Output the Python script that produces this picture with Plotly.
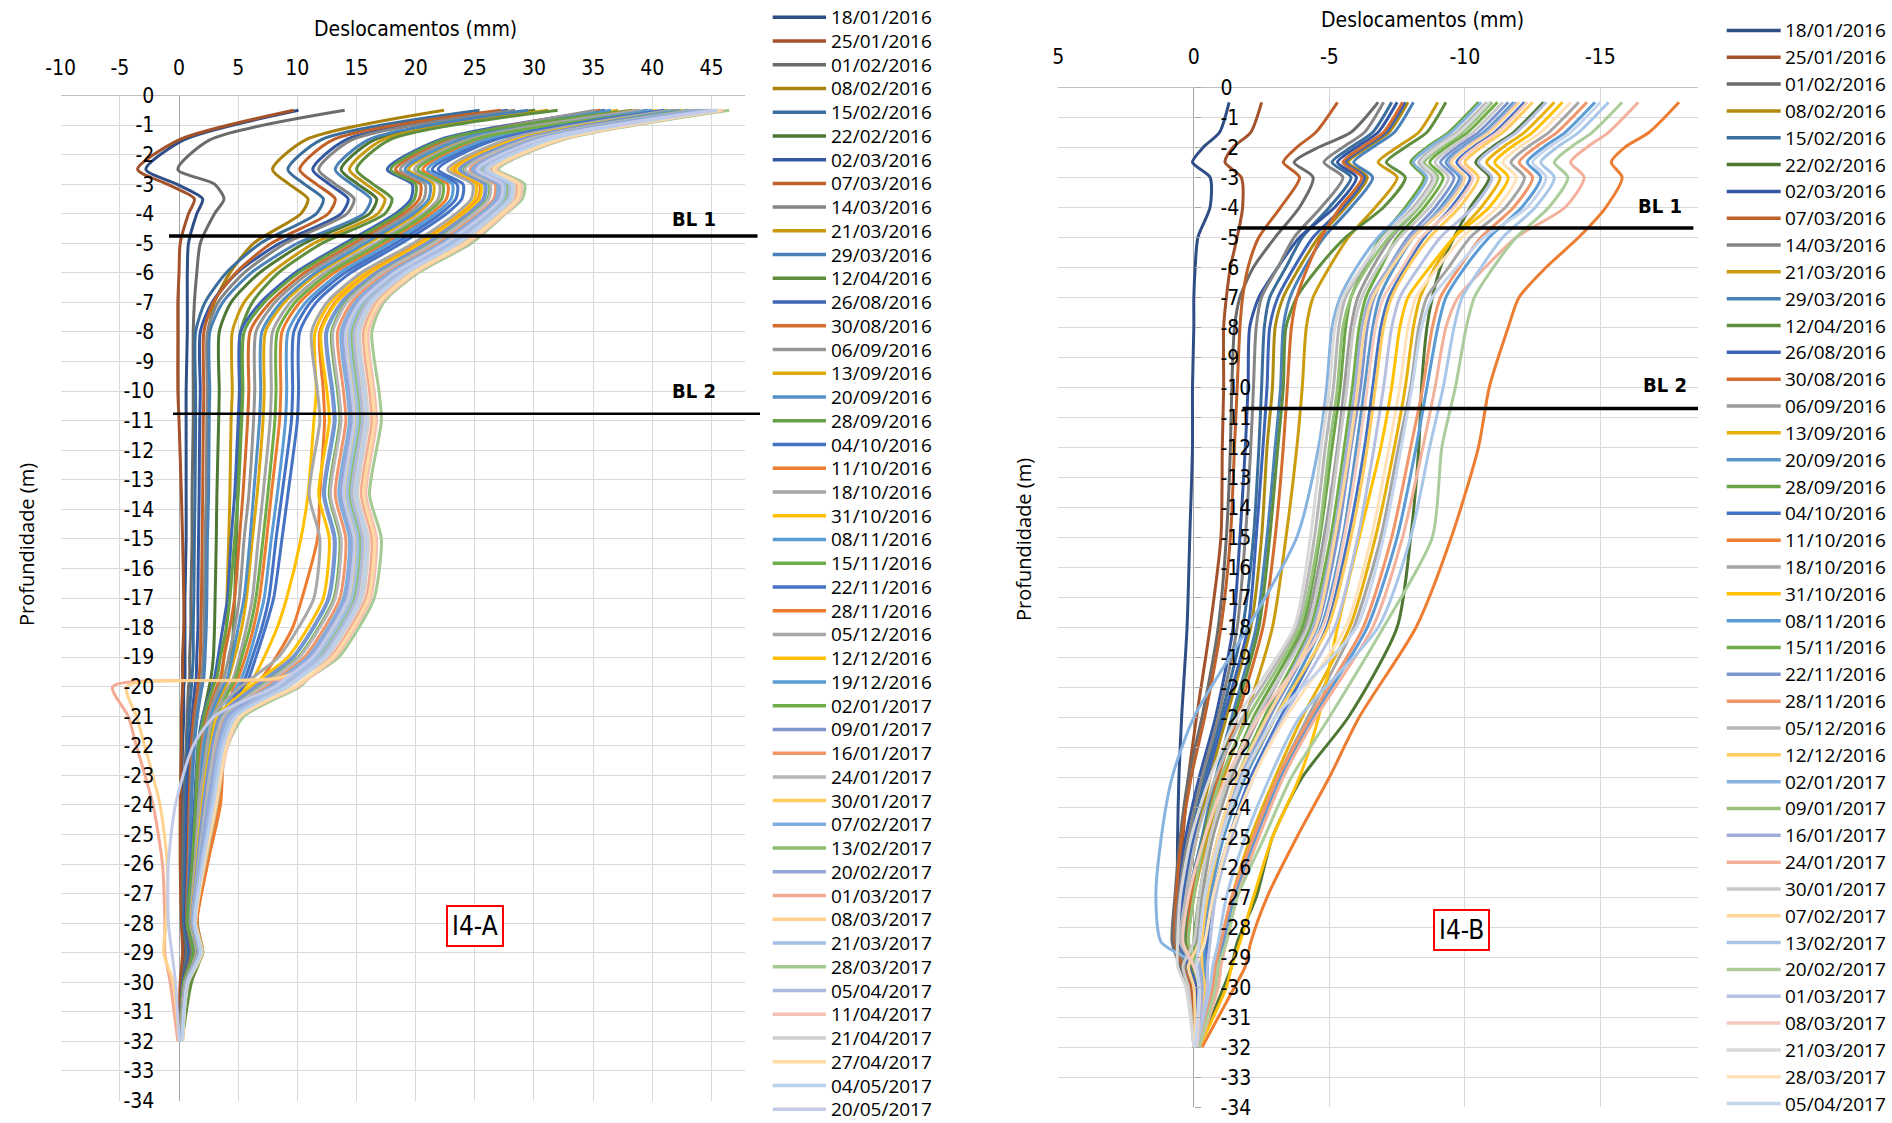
import plotly.graph_objects as go

# ---------------------------------------------------------------------------
# Inclinometer I4-A : depth stations (m) and cumulative displacement (mm)
# ---------------------------------------------------------------------------
depth_a = [-0.5, -1.5, -2.5, -3, -3.5, -4, -5, -6, -7, -8, -10, -11, -13.5, -15, -17,
           -18, -19, -19.7, -20, -21, -22, -24, -26, -28, -29, -30, -32]

dates_a = ["18/01/2016", "25/01/2016", "01/02/2016", "08/02/2016", "15/02/2016", "22/02/2016",
           "02/03/2016", "07/03/2016", "14/03/2016", "21/03/2016", "29/03/2016", "12/04/2016",
           "26/08/2016", "30/08/2016", "06/09/2016", "13/09/2016", "20/09/2016", "28/09/2016",
           "04/10/2016", "11/10/2016", "18/10/2016", "31/10/2016", "08/11/2016", "15/11/2016",
           "22/11/2016", "28/11/2016", "05/12/2016", "12/12/2016", "19/12/2016", "02/01/2017",
           "09/01/2017", "16/01/2017", "24/01/2017", "30/01/2017", "07/02/2017", "13/02/2017",
           "20/02/2017", "01/03/2017", "08/03/2017", "21/03/2017", "28/03/2017", "05/04/2017",
           "11/04/2017", "21/04/2017", "27/04/2017", "04/05/2017", "20/05/2017"]

colors_a = ["#2F4E86", "#A3522A", "#6B6B6B", "#A8820A", "#3A6E9C", "#4D7733",
            "#3457A3", "#C0602A", "#858585", "#C99A10", "#4A82B8", "#5E8E3E",
            "#3E65B5", "#D46C2E", "#969696", "#E0A808", "#5290C8", "#67A044",
            "#4472C4", "#ED7D31", "#A5A5A5", "#FFC000", "#5B9BD5", "#70AD47",
            "#4673C4", "#EE7B30", "#A8A8A8", "#FFC000", "#5B9BD5", "#70AD47",
            "#7D95CF", "#F1956B", "#B7B7B7", "#FFCB5C", "#7EAEDE", "#8DBE6F",
            "#95A7D8", "#F3AA92", "#FFD38E", "#A0C0E6", "#A5CA93", "#AEB9DE",
            "#F5C2B2", "#CFCFCF", "#FFDBA3", "#BBD0EC", "#C3CBE8"]

a_2016_01_18 = [10.1, 0.4, -2.8, -0.2, 2.0, 1.5, 0.8, 0.7, 0.7, 0.7, 0.6, 0.6, 0.6, 0.6, 0.5, 0.5, 0.5, 0.5, 0.4, 0.4, 0.3, 0.2, 0.2, 0.3, 0.4, 0.2, 0.0]
a_2016_01_25 = [9.7, 0.0, -3.5, -1.0, 1.3, 0.8, 0.1, 0.0, -0.1, -0.1, -0.1, 0.0, 0.2, 0.3, 0.4, 0.4, 0.3, 0.3, 0.3, 0.2, 0.2, 0.1, 0.1, 0.2, 0.3, 0.1, 0.0]
a_2016_02_01 = [14.0, 2.6, -0.1, 3.0, 3.8, 3.0, 1.8, 1.5, 1.3, 1.2, 1.2, 1.2, 1.1, 1.1, 1.0, 1.0, 0.9, 0.9, 0.8, 0.7, 0.6, 0.4, 0.3, 0.4, 0.6, 0.3, 0.1]
a_2016_02_08 = [22.4, 10.7, 7.9, 9.3, 10.9, 10.3, 6.3, 4.3, 3.0, 2.5, 2.5, 2.45, 2.4, 2.3, 2.25, 2.2, 2.1, 2.0, 1.9, 1.5, 1.25, 1.0, 0.9, 0.75, 1.15, 0.5, 0.1]
a_2016_02_15 = [25.4, 12.0, 9.2, 10.6, 12.2, 11.6, 6.9, 4.0, 2.2, 1.4, 1.4, 1.4, 1.35, 1.3, 1.25, 1.2, 1.2, 1.1, 1.05, 0.85, 0.7, 0.55, 0.5, 0.4, 0.8, 0.3, 0.05]
a_2016_02_22 = [30.1, 16.5, 13.7, 15.1, 16.7, 16.1, 10.6, 6.8, 4.4, 3.4, 3.4, 3.35, 3.2, 3.15, 3.05, 3.0, 2.9, 2.7, 2.55, 2.05, 1.7, 1.35, 1.2, 1.0, 1.4, 0.7, 0.15]
a_2016_03_02 = [27.8, 14.1, 11.3, 12.7, 14.3, 13.7, 8.5, 4.9, 2.8, 1.8, 1.8, 1.75, 1.7, 1.65, 1.6, 1.6, 1.5, 1.45, 1.35, 1.1, 0.9, 0.7, 0.65, 0.55, 0.95, 0.35, 0.1]
a_2016_03_07 = [27.2, 13.0, 10.2, 11.6, 13.2, 12.6, 7.8, 4.8, 2.9, 2.1, 2.1, 2.05, 2.0, 1.95, 1.9, 1.85, 1.8, 1.7, 1.6, 1.25, 1.05, 0.85, 0.75, 0.65, 1.05, 0.4, 0.1]
a_2016_03_14 = [28.4, 14.6, 11.8, 13.2, 14.8, 14.2, 9.0, 5.5, 3.3, 2.4, 2.4, 2.35, 2.3, 2.2, 2.15, 2.1, 2.05, 1.9, 1.8, 1.45, 1.2, 0.95, 0.85, 0.7, 1.1, 0.5, 0.1]
a_2016_03_21 = [31.2, 17.2, 14.4, 15.8, 17.4, 16.8, 11.4, 7.8, 5.5, 4.5, 4.5, 4.4, 4.3, 4.2, 4.05, 4.0, 3.8, 3.6, 3.4, 2.7, 2.25, 1.8, 1.6, 1.35, 1.75, 0.9, 0.2]
a_2016_03_29 = [29.5, 16.0, 13.2, 14.6, 16.2, 15.6, 10.0, 6.1, 3.7, 2.6, 2.6, 2.55, 2.5, 2.4, 2.35, 2.3, 2.2, 2.1, 1.95, 1.55, 1.3, 1.05, 0.9, 0.8, 1.2, 0.5, 0.15]
a_2016_04_12 = [32.0, 17.8, 15.0, 16.4, 18.0, 17.4, 12.1, 8.4, 6.2, 5.2, 5.2, 5.1, 4.95, 4.85, 4.7, 4.6, 4.4, 4.15, 3.9, 3.1, 2.6, 2.1, 1.8, 1.55, 1.95, 1.05, 0.25]
a_2016_08_26 = [36.0, 22.0, 17.6, 19.7, 19.6, 18.3, 14.0, 9.8, 6.9, 5.2, 5.1, 5.0, 4.7, 4.4, 4.1, 3.7, 3.3, 3.0, 2.8, 2.0, 1.6, 1.3, 1.0, 0.7, 1.2, 0.4, 0.1]
a_2016_08_30 = [35.6, 22.8, 18.3, 20.4, 20.3, 19.0, 14.8, 10.6, 7.7, 6.0, 5.9, 5.8, 5.4, 5.1, 4.7, 4.3, 3.8, 3.5, 3.2, 2.3, 1.8, 1.5, 1.2, 0.8, 1.3, 0.4, 0.1]
a_2016_09_06 = [35.2, 23.2, 18.7, 20.8, 20.7, 19.4, 15.2, 11.0, 8.1, 6.5, 6.4, 6.3, 5.9, 5.5, 5.1, 4.7, 4.2, 3.8, 3.4, 2.5, 2.0, 1.6, 1.3, 0.85, 1.35, 0.45, 0.15]
a_2016_09_13 = [37.1, 24.0, 19.4, 21.5, 21.4, 20.1, 16.0, 11.8, 8.9, 7.3, 7.2, 7.1, 6.6, 6.2, 5.7, 5.3, 4.7, 4.2, 3.9, 2.8, 2.2, 1.8, 1.5, 0.95, 1.45, 0.5, 0.15]
a_2016_09_20 = [36.5, 23.7, 19.1, 21.2, 21.1, 19.8, 15.7, 11.5, 8.6, 7.0, 6.9, 6.8, 6.3, 6.0, 5.5, 5.0, 4.5, 4.1, 3.7, 2.7, 2.1, 1.75, 1.4, 0.9, 1.4, 0.5, 0.15]
a_2016_09_28 = [38.3, 22.3, 17.9, 20.0, 19.9, 18.6, 14.3, 10.1, 7.2, 5.5, 5.4, 5.3, 5.0, 4.7, 4.3, 4.0, 3.5, 3.2, 2.9, 2.1, 1.65, 1.4, 1.1, 0.7, 1.2, 0.4, 0.1]
a_2016_10_04 = [39.6, 26.2, 21.4, 23.5, 23.4, 22.1, 18.3, 14.0, 11.1, 9.7, 9.6, 9.5, 8.7, 8.2, 7.6, 7.0, 6.2, 5.6, 5.1, 3.7, 2.9, 2.4, 1.9, 1.25, 1.75, 0.7, 0.2]
a_2016_10_11 = [38.7, 25.3, 20.6, 22.7, 22.6, 21.3, 17.4, 13.1, 10.2, 8.7, 8.6, 8.5, 7.8, 7.4, 6.8, 6.3, 5.6, 5.0, 4.6, 4.2, 3.8, 3.5, 2.4, 1.5, 2.0, 0.8, 0.2]
a_2016_10_18 = [39.0, 24.5, 19.9, 22.0, 21.9, 20.6, 16.6, 12.3, 9.4, 7.9, 7.8, 7.7, 7.1, 6.7, 6.2, 5.7, 5.1, 4.6, 4.2, 3.0, 2.4, 2.0, 1.6, 1.0, 1.5, 0.55, 0.15]
a_2016_10_31 = [40.4, 27.9, 23.0, 25.1, 25.0, 23.7, 20.0, 15.7, 12.8, 11.5, 11.6, 11.4, 10.9, 10.3, 9.1, 8.3, 7.2, 6.3, 5.6, 3.9, 3.0, 2.3, 1.7, 1.2, 1.7, 0.7, 0.2]
a_2016_11_08 = [40.0, 25.8, 21.0, 23.1, 23.0, 21.7, 17.8, 13.6, 10.7, 9.2, 9.1, 9.0, 8.3, 7.8, 7.2, 6.6, 5.9, 5.3, 4.9, 3.5, 2.8, 2.3, 1.8, 1.2, 1.7, 0.65, 0.2]
a_2016_11_15 = [41.3, 24.9, 20.2, 22.3, 22.2, 20.9, 17.0, 12.7, 9.8, 8.3, 8.2, 8.1, 7.5, 7.1, 6.5, 6.0, 5.3, 4.8, 4.4, 3.2, 2.5, 2.1, 1.7, 1.1, 1.6, 0.6, 0.15]
a_2016_11_22 = [41.0, 26.7, 21.9, 24.0, 23.9, 22.6, 18.8, 14.5, 11.6, 10.2, 10.1, 10.0, 9.2, 8.7, 8.0, 7.3, 6.5, 5.9, 5.4, 3.9, 3.1, 2.55, 2.0, 1.3, 1.8, 0.7, 0.2]
a_2016_11_28 = [42.0, 28.3, 23.3, 25.4, 25.3, 24.0, 20.4, 16.1, 13.2, 11.9, 12.2, 12.3, 11.9, 11.7, 10.4, 9.6, 8.2, 7.0, 6.2, 4.5, 3.9, 3.3, 2.4, 1.5, 2.0, 0.8, 0.2]
a_2016_12_05 = [41.7, 27.6, 22.7, 24.8, 24.7, 23.4, 19.8, 15.4, 12.5, 11.2, 11.7, 11.9, 11.0, 11.9, 11.4, 10.1, 8.4, 6.2, 5.2, 2.85, 2.4, 1.7, 1.35, 1.0, 1.5, 0.5, 0.15]
a_2016_12_12 = [42.5, 28.4, 23.4, 25.5, 25.4, 24.1, 20.5, 16.2, 13.3, 12.0, 12.5, 12.7, 11.8, 12.7, 12.2, 10.9, 9.2, 7.0, 6.0, 3.25, 2.7, 1.95, 1.5, 1.05, 1.55, 0.55, 0.15]
a_2016_12_19 = [42.3, 28.9, 23.8, 25.9, 25.8, 24.5, 21.0, 16.7, 13.8, 12.5, 13.0, 13.2, 12.3, 13.2, 12.7, 11.4, 9.7, 7.5, 6.5, 3.5, 2.85, 2.1, 1.6, 1.1, 1.6, 0.55, 0.2]
a_2017_01_02 = [43.0, 29.2, 24.1, 26.2, 26.1, 24.8, 21.4, 17.0, 14.1, 12.9, 13.4, 13.6, 12.7, 13.6, 13.1, 11.8, 10.1, 7.9, 6.9, 3.7, 3.0, 2.2, 1.65, 1.1, 1.6, 0.6, 0.2]
a_2017_01_09 = [43.4, 28.8, 23.7, 25.8, 25.7, 24.4, 20.9, 16.6, 13.7, 12.4, 12.9, 13.1, 12.2, 13.1, 12.6, 11.3, 9.6, 7.4, 6.4, 3.45, 2.8, 2.05, 1.55, 1.1, 1.6, 0.55, 0.2]
a_2017_01_16 = [43.8, 29.7, 24.6, 26.7, 26.6, 25.3, 21.9, 17.5, 14.6, 13.4, 13.9, 14.1, 13.2, 14.1, 13.6, 12.3, 10.6, 8.4, 7.4, 3.95, 3.2, 2.35, 1.7, 1.15, 1.65, 0.6, 0.2]
a_2017_01_24 = [43.6, 29.3, 24.2, 26.3, 26.2, 24.9, 21.5, 17.1, 14.2, 13.0, 13.5, 13.7, 12.8, 13.7, 13.2, 11.9, 10.2, 8.0, 7.0, 3.75, 3.0, 2.25, 1.65, 1.15, 1.65, 0.6, 0.2]
a_2017_01_30 = [44.2, 30.5, 25.3, 27.4, 27.3, 26.0, 22.6, 18.3, 15.4, 14.2, 14.7, 14.9, 14.0, 14.9, 14.4, 13.1, 11.4, 9.2, 8.2, 4.35, 3.45, 2.6, 1.85, 1.25, 1.75, 0.65, 0.25]
a_2017_02_07 = [44.0, 30.0, 24.8, 26.9, 26.8, 25.5, 22.2, 17.8, 14.9, 13.7, 14.2, 14.4, 13.5, 14.4, 13.9, 12.6, 10.9, 8.7, 7.7, 4.1, 3.3, 2.45, 1.75, 1.2, 1.7, 0.65, 0.2]
a_2017_02_13 = [44.6, 30.8, 25.6, 27.7, 27.6, 26.3, 23.0, 18.6, 15.7, 14.6, 15.1, 15.3, 14.4, 15.3, 14.8, 13.5, 11.8, 9.6, 8.6, 4.55, 3.6, 2.75, 1.95, 1.3, 1.8, 0.7, 0.25]
a_2017_02_20 = [44.4, 30.2, 25.0, 27.1, 27.0, 25.7, 22.4, 18.0, 15.1, 13.9, 14.4, 14.6, 13.7, 14.6, 14.1, 12.8, 11.1, 8.9, 7.9, 4.2, 3.35, 2.5, 1.8, 1.2, 1.7, 0.65, 0.2]
a_2017_03_01 = [45.4, 31.8, 26.4, 28.5, 28.4, 27.1, 24.0, 19.6, 16.7, 15.6, 16.1, 16.3, 15.4, 16.3, 15.8, 14.5, 12.8, 9.5, -5.6, -4.3, -3.6, -2.2, -1.4, -1.2, -1.2, -0.75, -0.1]
a_2017_03_08 = [45.0, 31.2, 25.9, 28.0, 27.9, 26.6, 23.4, 19.0, 16.1, 15.0, 15.5, 15.7, 14.8, 15.7, 15.2, 13.9, 12.2, 8.5, -4.4, -3.6, -2.9, -1.6, -1.0, -1.1, -1.3, -0.5, 0.0]
a_2017_03_21 = [44.8, 30.6, 25.4, 27.5, 27.4, 26.1, 22.8, 18.4, 15.5, 14.4, 14.9, 15.1, 14.2, 15.1, 14.6, 13.3, 11.6, 9.4, 8.4, 4.45, 3.5, 2.7, 1.9, 1.25, 1.75, 0.7, 0.25]
a_2017_03_28 = [46.5, 32.4, 27.0, 29.2, 29.0, 27.6, 24.7, 20.2, 17.3, 16.3, 16.9, 17.1, 16.1, 17.1, 16.5, 15.2, 13.5, 11.0, 10.2, 5.5, 4.1, 3.2, 2.2, 1.4, 2.0, 0.8, 0.3]
a_2017_04_05 = [45.2, 31.0, 25.8, 27.9, 27.8, 26.5, 23.2, 18.8, 15.9, 14.8, 15.3, 15.5, 14.6, 15.5, 15.0, 13.7, 12.0, 9.8, 8.8, 4.65, 3.7, 2.8, 1.95, 1.3, 1.8, 0.7, 0.25]
a_2017_04_11 = [46.0, 32.2, 26.8, 28.9, 28.8, 27.5, 24.4, 20.0, 17.1, 16.0, 16.5, 16.7, 15.8, 16.7, 16.2, 14.9, 13.2, 11.0, 10.0, 5.25, 4.1, 3.15, 2.15, 1.4, 1.9, 0.75, 0.3]
a_2017_04_21 = [45.6, 31.5, 26.2, 28.3, 28.2, 26.9, 23.7, 19.3, 16.4, 15.3, 15.8, 16.0, 15.1, 16.0, 15.5, 14.2, 12.5, 10.3, 9.3, 4.9, 3.8, 2.95, 2.05, 1.35, 1.85, 0.75, 0.25]
a_2017_04_27 = [45.8, 32.0, 26.6, 28.7, 28.6, 27.3, 24.2, 19.8, 16.9, 15.8, 16.3, 16.5, 15.6, 16.5, 16.0, 14.7, 13.0, 10.8, 9.8, 5.15, 4.0, 3.1, 2.1, 1.4, 1.9, 0.75, 0.3]
a_2017_05_04 = [45.5, 31.3, 26.0, 28.1, 28.0, 26.7, 23.5, 19.1, 16.2, 15.1, 15.6, 15.8, 14.9, 15.8, 15.3, 14.0, 12.3, 10.1, 9.1, 4.8, 3.75, 2.9, 2.0, 1.35, 1.85, 0.75, 0.25]
a_2017_05_20 = [45.3, 30.4, 25.2, 27.3, 27.2, 25.9, 22.5, 18.2, 15.3, 14.1, 14.6, 14.8, 13.9, 14.8, 14.3, 13.0, 11.3, 9.1, 8.1, 3.0, 1.2, -0.3, -0.9, -0.9, -0.6, -0.3, 0.0]

series_a = [a_2016_01_18, a_2016_01_25, a_2016_02_01, a_2016_02_08, a_2016_02_15, a_2016_02_22,
            a_2016_03_02, a_2016_03_07, a_2016_03_14, a_2016_03_21, a_2016_03_29, a_2016_04_12,
            a_2016_08_26, a_2016_08_30, a_2016_09_06, a_2016_09_13, a_2016_09_20, a_2016_09_28,
            a_2016_10_04, a_2016_10_11, a_2016_10_18, a_2016_10_31, a_2016_11_08, a_2016_11_15,
            a_2016_11_22, a_2016_11_28, a_2016_12_05, a_2016_12_12, a_2016_12_19, a_2017_01_02,
            a_2017_01_09, a_2017_01_16, a_2017_01_24, a_2017_01_30, a_2017_02_07, a_2017_02_13,
            a_2017_02_20, a_2017_03_01, a_2017_03_08, a_2017_03_21, a_2017_03_28, a_2017_04_05,
            a_2017_04_11, a_2017_04_21, a_2017_04_27, a_2017_05_04, a_2017_05_20]

# ---------------------------------------------------------------------------
# Inclinometer I4-B
# ---------------------------------------------------------------------------
depth_b = [-0.5, -1.5, -2, -2.5, -3, -4, -5, -6, -7, -8, -10, -12, -15, -18, -21, -23,
           -25, -27, -28.5, -29.3, -30, -32]

dates_b = dates_a[:28] + ["02/01/2017", "09/01/2017", "16/01/2017", "24/01/2017", "30/01/2017",
                          "07/02/2017", "13/02/2017", "20/02/2017", "01/03/2017", "08/03/2017",
                          "21/03/2017", "28/03/2017", "05/04/2017"]

colors_b = ["#2F4E86", "#A3522A", "#6B6B6B", "#B08C0E", "#3A6E9C", "#4D7733",
            "#3457A3", "#C0602A", "#858585", "#CC9C10", "#4A82B8", "#5E8E3E",
            "#3E65B5", "#D46C2E", "#9B9B9B", "#E8B00A", "#5896CC", "#6AA545",
            "#4472C4", "#ED7D31", "#A5A5A5", "#FFC000", "#5B9BD5", "#70AD47",
            "#7D95CF", "#F1956B", "#B7B7B7", "#FFCB5C", "#86B3E0", "#96C27C",
            "#A0AFD9", "#F3B09A", "#C9C9C9", "#FFD69A", "#A8C7E8", "#ABCD9C",
            "#B6C1E1", "#F6CABC", "#D8D8D8", "#FFE2BA", "#C4D5ED"]

b_2016_01_18 = [-1.3, -0.95, -0.35, 0.05, -0.6, -0.6, -0.15, -0.05, 0.0, 0.0, 0.05, 0.05, 0.15, 0.25, 0.45, 0.55, 0.6, 0.6, 0.55, 0.5, 0.2, 0.0]
b_2016_01_25 = [-2.5, -2.1, -1.45, -1.15, -1.75, -1.8, -1.6, -1.35, -1.2, -1.1, -1.1, -1.05, -1.0, -0.6, -0.1, 0.2, 0.4, 0.5, 0.6, 0.4, 0.1, 0.0]
b_2016_02_01 = [-6.8, -5.8, -4.6, -3.7, -4.4, -3.9, -3.0, -2.2, -1.7, -1.5, -1.4, -1.35, -1.2, -0.9, -0.3, 0.2, 0.5, 0.7, 0.8, 0.5, 0.2, 0.0]
b_2016_02_08 = [-7.9, -7.2, -6.4, -5.7, -6.4, -5.6, -4.6, -3.9, -3.3, -3.0, -2.9, -2.7, -2.5, -2.1, -1.2, -0.6, -0.1, 0.3, 0.4, 0.2, -0.1, -0.1]
b_2016_02_15 = [-7.3, -6.6, -5.8, -5.1, -5.8, -5.0, -4.0, -3.4, -2.8, -2.6, -2.5, -2.4, -2.2, -1.8, -1.0, -0.4, 0.1, 0.5, 0.6, 0.3, 0.0, -0.1]
b_2016_02_22 = [-12.9, -11.8, -11.0, -10.4, -10.9, -10.2, -9.6, -9.1, -8.8, -8.6, -8.4, -8.3, -8.0, -7.5, -5.7, -4.0, -2.9, -2.3, -1.6, -1.4, -1.1, -0.2]
b_2016_03_02 = [-7.5, -6.8, -6.0, -5.3, -6.0, -5.2, -3.9, -3.1, -2.4, -2.06, -2.0, -1.9, -1.7, -1.45, -0.8, -0.2, 0.3, 0.6, 0.7, 0.3, 0.0, -0.05]
b_2016_03_07 = [-5.3, -4.5, -3.8, -3.3, -3.9, -3.2, -2.4, -2.0, -1.8, -1.7, -1.6, -1.5, -1.35, -1.0, -0.4, 0.1, 0.45, 0.65, 0.7, 0.4, 0.1, 0.0]
b_2016_03_14 = [-7.0, -6.3, -5.5, -4.8, -5.5, -4.7, -3.7, -3.1, -2.5, -2.3, -2.2, -2.1, -1.9, -1.6, -0.9, -0.3, 0.2, 0.55, 0.65, 0.3, 0.0, -0.05]
b_2016_03_21 = [-9.0, -8.3, -7.5, -6.8, -7.5, -6.7, -5.7, -5.0, -4.4, -4.15, -4.0, -3.8, -3.4, -2.9, -1.9, -1.1, -0.5, 0.0, 0.2, 0.0, -0.3, -0.1]
b_2016_03_29 = [-8.1, -7.4, -6.6, -5.9, -6.6, -5.8, -4.8, -4.1, -3.55, -3.3, -3.2, -3.0, -2.7, -2.3, -1.4, -0.8, -0.3, 0.2, 0.3, 0.1, -0.2, -0.1]
b_2016_04_12 = [-9.3, -8.6, -7.8, -7.1, -7.8, -7.0, -5.6, -4.6, -3.8, -3.4, -3.3, -3.1, -2.8, -2.4, -1.5, -0.9, -0.35, 0.1, 0.3, 0.1, -0.2, -0.1]
b_2016_08_26 = [-7.8, -7.1, -6.3, -5.6, -6.3, -5.5, -4.4, -3.7, -3.1, -2.8, -2.7, -2.55, -2.3, -2.0, -1.1, -0.5, 0.0, 0.4, 0.5, 0.2, -0.1, -0.1]
b_2016_08_30 = [-7.7, -7.0, -6.2, -5.5, -6.2, -5.4, -4.7, -4.2, -3.8, -3.6, -3.45, -3.3, -3.0, -2.55, -1.6, -0.9, -0.4, 0.1, 0.2, 0.0, -0.3, -0.1]
b_2016_09_06 = [-11.0, -9.9, -9.1, -8.5, -9.0, -8.3, -7.3, -6.6, -6.05, -5.8, -5.55, -5.3, -4.8, -4.1, -2.4, -1.4, -0.7, -0.3, -0.1, -0.2, -0.3, -0.1]
b_2016_09_13 = [-13.3, -12.2, -11.4, -10.8, -11.3, -10.6, -9.6, -8.9, -8.35, -8.1, -7.8, -7.4, -6.7, -5.75, -4.0, -3.0, -2.1, -1.4, -1.0, -0.8, -0.7, -0.15]
b_2016_09_20 = [-11.8, -10.7, -9.9, -9.3, -9.8, -9.1, -8.1, -7.4, -6.85, -6.6, -6.3, -6.0, -5.5, -4.7, -3.0, -1.9, -1.1, -0.6, -0.4, -0.4, -0.4, -0.1]
b_2016_09_28 = [-10.5, -9.4, -8.6, -8.0, -8.5, -7.8, -6.9, -6.3, -5.8, -5.6, -5.4, -5.1, -4.65, -4.0, -2.2, -1.3, -0.6, -0.2, 0.0, -0.1, -0.3, -0.1]
b_2016_10_04 = [-12.2, -11.1, -10.3, -9.7, -10.2, -9.5, -8.5, -7.8, -7.2, -6.9, -6.6, -6.3, -5.7, -4.9, -3.2, -2.1, -1.3, -0.7, -0.5, -0.5, -0.5, -0.1]
b_2016_10_11 = [-17.9, -16.8, -15.9, -15.4, -15.8, -15.2, -14.2, -13.0, -12.0, -11.6, -10.9, -10.5, -9.5, -8.2, -6.1, -5.0, -3.8, -2.7, -2.1, -1.9, -1.5, -0.3]
b_2016_10_18 = [-14.2, -13.1, -12.3, -11.7, -12.2, -11.5, -10.2, -9.4, -8.6, -8.3, -8.0, -7.55, -6.9, -5.9, -4.2, -3.1, -2.2, -1.5, -1.1, -0.9, -0.8, -0.15]
b_2016_10_31 = [-13.6, -12.5, -11.7, -11.1, -11.6, -10.9, -9.6, -8.7, -7.9, -7.6, -7.3, -6.9, -6.1, -5.3, -4.6, -3.9, -2.9, -2.2, -1.7, -1.4, -1.2, -0.2]
b_2016_11_08 = [-14.8, -13.7, -12.9, -12.3, -12.8, -12.1, -10.9, -10.0, -9.3, -9.0, -8.6, -8.2, -7.5, -6.4, -4.4, -3.2, -2.3, -1.5, -1.1, -0.9, -0.8, -0.15]
b_2016_11_15 = [-11.2, -10.1, -9.3, -8.7, -9.2, -8.5, -7.5, -6.9, -6.35, -6.1, -5.85, -5.55, -5.05, -4.3, -2.6, -1.6, -0.9, -0.4, -0.2, -0.2, -0.3, -0.1]
b_2016_11_22 = [-11.6, -10.5, -9.7, -9.1, -9.6, -8.9, -7.9, -7.2, -6.65, -6.4, -6.15, -5.8, -5.3, -4.55, -2.8, -1.8, -1.0, -0.5, -0.3, -0.3, -0.4, -0.1]
b_2016_11_28 = [-14.5, -13.4, -12.6, -12.0, -12.5, -11.8, -10.6, -9.8, -9.1, -8.8, -8.45, -8.0, -7.3, -6.25, -4.3, -3.1, -2.2, -1.4, -1.0, -0.8, -0.7, -0.15]
b_2016_12_05 = [-10.8, -9.7, -8.9, -8.3, -8.8, -8.1, -7.0, -6.25, -5.6, -5.35, -5.15, -4.85, -4.45, -3.8, -1.8, -0.8, -0.1, 0.3, 0.5, 0.0, -0.2, -0.1]
b_2016_12_12 = [-12.5, -11.4, -10.6, -10.0, -10.5, -9.8, -8.7, -7.9, -7.3, -7.0, -6.7, -6.4, -5.8, -4.95, -3.0, -1.8, -1.0, -0.5, -0.3, -0.3, -0.4, -0.1]
b_2017_01_02 = [-10.6, -9.5, -8.7, -8.1, -8.6, -7.9, -6.8, -6.0, -5.4, -5.1, -4.9, -4.6, -3.8, -2.0, 0.0, 0.8, 1.2, 1.4, 1.2, -0.2, -0.3, -0.1]
b_2017_01_09 = [-11.0, -9.9, -9.1, -8.5, -9.0, -8.3, -7.2, -6.4, -5.8, -5.5, -5.3, -5.0, -4.6, -3.9, -2.0, -1.0, -0.4, 0.0, 0.2, -0.1, -0.2, -0.1]
b_2017_01_16 = [-11.9, -10.8, -10.0, -9.4, -9.9, -9.2, -8.0, -7.2, -6.5, -6.2, -5.95, -5.65, -5.15, -4.4, -2.7, -1.7, -0.9, -0.4, -0.2, -0.2, -0.3, -0.1]
b_2017_01_24 = [-16.4, -15.3, -14.5, -13.9, -14.4, -13.7, -11.9, -10.75, -9.75, -9.3, -8.9, -8.45, -7.7, -6.6, -4.5, -3.3, -2.4, -1.6, -1.2, -1.0, -0.9, -0.2]
b_2017_01_30 = [-11.4, -10.3, -9.5, -8.9, -9.4, -8.7, -7.6, -6.8, -6.2, -5.9, -5.65, -5.35, -4.9, -4.2, -2.3, -1.3, -0.6, -0.2, 0.0, 0.4, 0.2, 0.0]
b_2017_02_07 = [-12.0, -10.9, -10.1, -9.5, -10.0, -9.3, -8.1, -7.3, -6.6, -6.3, -6.05, -5.75, -5.2, -4.5, -2.7, -1.6, -0.9, -0.4, -0.2, 0.2, 0.0, -0.05]
b_2017_02_13 = [-15.3, -14.2, -13.4, -12.8, -13.3, -12.6, -11.4, -10.6, -9.9, -9.6, -9.2, -8.7, -8.0, -6.8, -3.9, -2.8, -1.9, -1.2, -0.9, -0.7, -0.6, -0.1]
b_2017_02_20 = [-15.8, -14.7, -13.9, -13.3, -13.8, -13.1, -11.9, -11.05, -10.35, -10.05, -9.65, -9.15, -8.8, -7.0, -5.0, -3.6, -2.6, -1.6, -1.2, -0.9, -0.8, -0.2]
b_2017_03_01 = [-13.0, -11.9, -11.1, -10.5, -11.0, -10.3, -9.1, -8.3, -7.6, -7.3, -7.0, -6.65, -6.05, -5.2, -3.3, -2.2, -1.4, -0.8, -0.6, -0.5, -0.5, -0.1]
b_2017_03_08 = [-12.3, -11.2, -10.4, -9.8, -10.3, -9.6, -8.4, -7.7, -7.0, -6.7, -6.4, -6.1, -5.55, -4.75, -2.4, -1.2, -0.4, 0.2, 0.4, 0.0, -0.2, -0.1]
b_2017_03_21 = [-10.9, -9.8, -9.0, -8.4, -8.9, -8.2, -7.0, -6.2, -5.5, -5.2, -5.0, -4.7, -4.3, -3.7, -1.6, -0.6, 0.1, 0.5, 0.6, 0.6, 0.3, 0.0]
b_2017_03_28 = [-13.9, -12.8, -12.0, -11.4, -11.9, -11.2, -9.9, -9.0, -8.2, -7.9, -7.6, -7.2, -6.55, -5.6, -3.4, -2.2, -1.3, -0.7, -0.4, -0.1, -0.2, -0.05]
b_2017_04_05 = [-15.0, -13.9, -13.1, -12.5, -13.0, -12.3, -10.7, -9.7, -8.8, -8.4, -8.05, -7.65, -7.0, -6.0, -3.0, -1.8, -1.0, -0.4, -0.2, -0.1, -0.2, -0.05]

series_b = [b_2016_01_18, b_2016_01_25, b_2016_02_01, b_2016_02_08, b_2016_02_15, b_2016_02_22,
            b_2016_03_02, b_2016_03_07, b_2016_03_14, b_2016_03_21, b_2016_03_29, b_2016_04_12,
            b_2016_08_26, b_2016_08_30, b_2016_09_06, b_2016_09_13, b_2016_09_20, b_2016_09_28,
            b_2016_10_04, b_2016_10_11, b_2016_10_18, b_2016_10_31, b_2016_11_08, b_2016_11_15,
            b_2016_11_22, b_2016_11_28, b_2016_12_05, b_2016_12_12, b_2017_01_02, b_2017_01_09,
            b_2017_01_16, b_2017_01_24, b_2017_01_30, b_2017_02_07, b_2017_02_13, b_2017_02_20,
            b_2017_03_01, b_2017_03_08, b_2017_03_21, b_2017_03_28, b_2017_04_05]

# Reference levels (m) of the two sliding surfaces
bl_a = [-4.75, -10.77]
bl_b = [-4.69, -10.71]

depth_ticks = list(range(0, -35, -1))
x_ticks_a = list(range(-10, 50, 5))
x_ticks_b = [5, 0, -5, -10, -15]

# ---------------------------------------------------------------------------
W, H = 1892, 1123
COND = "DejaVu Sans Condensed, Liberation Sans Narrow, Arial Narrow, sans-serif"
WIDE = "Open Sans, DejaVu Sans, sans-serif"
GRID = "#D9D9D9"
AXIS = "#A6A6A6"
LW = 3.0


def px(v):
    return v / W


def py(v):
    return 1 - v / H


fig = go.Figure()

for name, color, xs in zip(dates_a, colors_a, series_a):
    fig.add_trace(go.Scatter(x=xs, y=depth_a, mode="lines", name=name,
                             line=dict(color=color, width=LW, shape="spline", smoothing=0.7),
                             xaxis="x", yaxis="y", showlegend=False))

for name, color, xs in zip(dates_b, colors_b, series_b):
    fig.add_trace(go.Scatter(x=xs, y=depth_b, mode="lines", name=name,
                             line=dict(color=color, width=LW, shape="spline", smoothing=0.7),
                             xaxis="x2", yaxis="y2", showlegend=False))

tick_font = dict(family=COND, size=21, color="#000000")

fig.update_layout(
    width=W, height=H,
    margin=dict(l=0, r=0, t=0, b=0, pad=0, autoexpand=False),
    paper_bgcolor="white", plot_bgcolor="white",
    showlegend=False,
    xaxis=dict(domain=[px(60.7), px(744.6)], range=[-10, 47.8], side="top", anchor="y",
               tickmode="array", tickvals=x_ticks_a, ticktext=[str(v) for v in x_ticks_a],
               showgrid=True, gridcolor=GRID, gridwidth=1,
               zeroline=True, zerolinecolor=AXIS, zerolinewidth=1,
               showline=False, ticks="", ticklabelstandoff=15, tickfont=tick_font),
    yaxis=dict(domain=[py(1100.5), py(95.5)], range=[-34, 0], anchor="free", position=px(178.4),
               side="left", tickmode="array", tickvals=depth_ticks,
               ticktext=[str(v) for v in depth_ticks],
               showgrid=True, gridcolor=GRID, gridwidth=1,
               zeroline=True, zerolinecolor="#BFBFBF", zerolinewidth=1,
               showline=False, ticks="", ticklabelstandoff=24, tickfont=tick_font),
    xaxis2=dict(domain=[px(1058.3), px(1698)], range=[5, -18.6], side="top", anchor="y2",
                tickmode="array", tickvals=x_ticks_b, ticktext=[str(v) for v in x_ticks_b],
                showgrid=True, gridcolor=GRID, gridwidth=1,
                zeroline=True, zerolinecolor=AXIS, zerolinewidth=1,
                showline=False, ticks="", ticklabelstandoff=18, tickfont=tick_font),
    yaxis2=dict(domain=[py(1107.3), py(87.3)], range=[-34, 0], anchor="free", position=px(1194.2),
                side="right", tickmode="array", tickvals=depth_ticks,
                ticktext=[str(v) for v in depth_ticks],
                showgrid=True, gridcolor=GRID, gridwidth=1,
                zeroline=True, zerolinecolor="#BFBFBF", zerolinewidth=1,
                showline=False, ticks="outside", ticklen=6, tickcolor=AXIS,
                ticklabelstandoff=15, tickfont=tick_font),
)

shapes = []
annotations = []

# sliding-surface markers
shapes.append(dict(type="line", xref="paper", yref="y", x0=px(169), x1=px(757.5),
                   y0=bl_a[0], y1=bl_a[0], line=dict(color="black", width=3.5)))
shapes.append(dict(type="line", xref="paper", yref="y", x0=px(173), x1=px(760),
                   y0=bl_a[1], y1=bl_a[1], line=dict(color="black", width=2.5)))
shapes.append(dict(type="line", xref="paper", yref="y2", x0=px(1237.4), x1=px(1693.4),
                   y0=bl_b[0], y1=bl_b[0], line=dict(color="black", width=3.5)))
shapes.append(dict(type="line", xref="paper", yref="y2", x0=px(1242.5), x1=px(1698),
                   y0=bl_b[1], y1=bl_b[1], line=dict(color="black", width=3.5)))

bl_font = dict(family=COND, size=20, color="black")
for txt, xx, yy, xr, yr in [("BL 1", 43.5, -4.18, "x", "y"), ("BL 2", 43.5, -10.0, "x", "y"),
                            ("BL 1", -17.2, -3.96, "x2", "y2"), ("BL 2", -17.4, -9.92, "x2", "y2")]:
    annotations.append(dict(text="<b>%s</b>" % txt, x=xx, y=yy, xref=xr, yref=yr,
                            showarrow=False, font=bl_font, xanchor="center", yanchor="middle"))

# inclinometer identifiers
for txt, xx, yy, xr, yr in [("I4-A", 25.0, -28.1, "x", "y"), ("I4-B", -9.86, -28.1, "x2", "y2")]:
    annotations.append(dict(text=txt, x=xx, y=yy, xref=xr, yref=yr, showarrow=False,
                            font=dict(family=COND, size=26, color="black"),
                            bgcolor="white", bordercolor="#FF0000", borderwidth=2, borderpad=4,
                            xanchor="center", yanchor="middle"))

# axis titles
title_font = dict(family=COND, size=21, color="black")
annotations.append(dict(text="Deslocamentos (mm)", x=px(415), y=py(29), xref="paper", yref="paper",
                        showarrow=False, font=title_font, xanchor="center", yanchor="middle"))
annotations.append(dict(text="Deslocamentos (mm)", x=px(1422.5), y=py(20), xref="paper", yref="paper",
                        showarrow=False, font=title_font, xanchor="center", yanchor="middle"))
ytitle_font = dict(family=WIDE, size=20, color="black")
annotations.append(dict(text="Profundidade (m)", x=px(26), y=py(545), xref="paper", yref="paper",
                        showarrow=False, font=ytitle_font, textangle=-90,
                        xanchor="center", yanchor="middle"))
annotations.append(dict(text="Profundidade (m)", x=px(1023), y=py(539), xref="paper", yref="paper",
                        showarrow=False, font=ytitle_font, textangle=-90,
                        xanchor="center", yanchor="middle"))

# series keys drawn beside each panel
legend_font = dict(family=WIDE, size=19, color="#000000")
for i, (name, color) in enumerate(zip(dates_a, colors_a)):
    yc = 17.2 + i * 23.74
    shapes.append(dict(type="line", xref="paper", yref="paper", x0=px(772.7), x1=px(826),
                       y0=py(yc), y1=py(yc), line=dict(color=color, width=3.5)))
    annotations.append(dict(text=name, x=px(829), y=py(yc), xref="paper", yref="paper",
                            showarrow=False, font=legend_font, xanchor="left", yanchor="middle"))

for i, (name, color) in enumerate(zip(dates_b, colors_b)):
    yc = 30.4 + i * 26.83
    shapes.append(dict(type="line", xref="paper", yref="paper", x0=px(1726.7), x1=px(1780.7),
                       y0=py(yc), y1=py(yc), line=dict(color=color, width=3.5)))
    annotations.append(dict(text=name, x=px(1783), y=py(yc), xref="paper", yref="paper",
                            showarrow=False, font=legend_font, xanchor="left", yanchor="middle"))

fig.update_layout(shapes=shapes, annotations=annotations)

# page without default body spacing so the figure fills the window exactly
fig.write_html("out.html",
               post_script="document.body.style.margin='0';"
                           "document.documentElement.style.overflow='hidden';"
                           "document.body.style.overflow='hidden';")
